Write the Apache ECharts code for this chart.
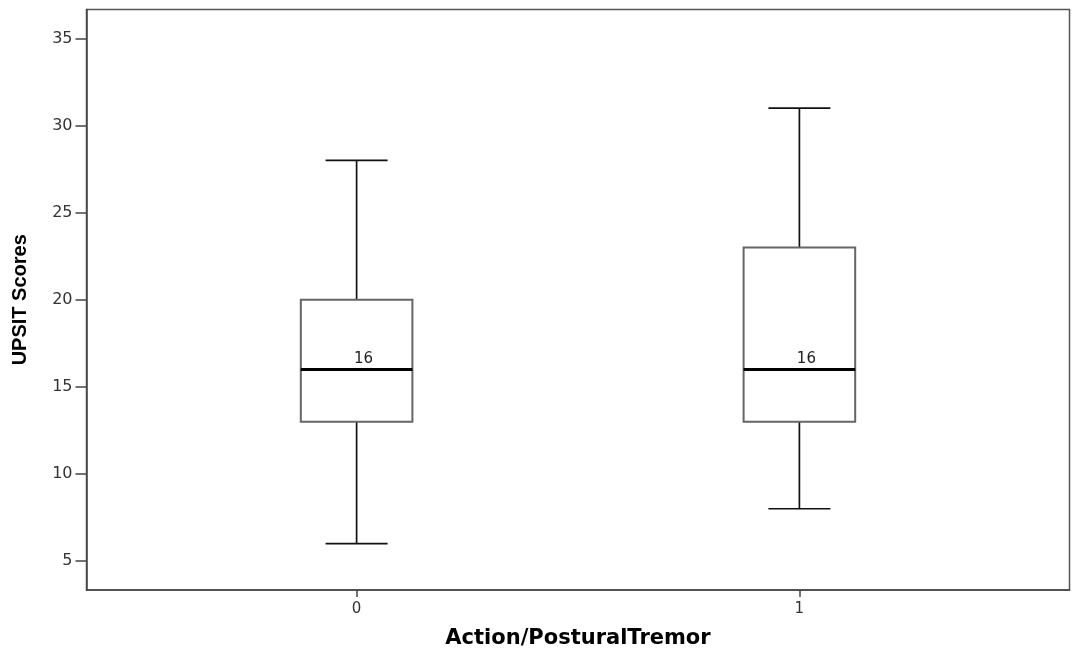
<!DOCTYPE html>
<html>
<head>
<meta charset="utf-8">
<script src="https://cdn.jsdelivr.net/npm/echarts@6/dist/echarts.min.js"></script>
<style>html,body{margin:0;padding:0;background:#fff}#c{width:1073px;height:653px}</style>
</head>
<body>
<div id="c"></div>
<script>
var categories = [0, 1];
var lowWhisker = [6, 8];
var q1 = [13, 13];
var median = [16, 16];
var q3 = [20, 23];
var highWhisker = [28, 31];
var yTicks = [5, 10, 15, 20, 25, 30, 35];
var xTicks = [0, 1];

var data = categories.map(function (c, i) {
  return [c, lowWhisker[i], q1[i], median[i], q3[i], highWhisker[i]];
});

var chart = echarts.init(document.getElementById('c'), null, {renderer: 'canvas'});
var BOXW = 0.252, CAPW = 0.14;
var LABEL_FONT = '"DejaVu Sans", Verdana, sans-serif';

function renderItem(params, api) {
  var x = api.value(0);
  var lo = api.value(1), a = api.value(2), m = api.value(3), b = api.value(4), hi = api.value(5);
  var pl = api.coord([x - BOXW / 2, b]);
  var pr = api.coord([x + BOXW / 2, a]);
  var cx = api.coord([x, m]);
  var capL = api.coord([x - CAPW / 2, hi])[0];
  var capR = api.coord([x + CAPW / 2, hi])[0];
  var yHi = api.coord([x, hi])[1], yLo = api.coord([x, lo])[1];
  var yA = api.coord([x, a])[1], yB = api.coord([x, b])[1];
  var lineStyle = {stroke: '#111', lineWidth: 1.7};
  return {
    type: 'group',
    children: [
      {type: 'line', shape: {x1: cx[0], y1: yHi, x2: cx[0], y2: yB}, style: lineStyle},
      {type: 'line', shape: {x1: cx[0], y1: yA, x2: cx[0], y2: yLo}, style: lineStyle},
      {type: 'line', shape: {x1: capL, y1: yHi, x2: capR, y2: yHi}, style: lineStyle},
      {type: 'line', shape: {x1: capL, y1: yLo, x2: capR, y2: yLo}, style: lineStyle},
      {type: 'rect', shape: {x: pl[0], y: pl[1], width: pr[0] - pl[0], height: pr[1] - pl[1]},
        style: {fill: '#fff', stroke: '#666', lineWidth: 2}},
      {type: 'line', shape: {x1: pl[0], y1: cx[1], x2: pr[0], y2: cx[1]}, style: {stroke: '#000', lineWidth: 3}},
      {type: 'text', x: cx[0] + 7, y: cx[1] - 3,
        style: {text: String(m), fill: '#222', font: '15px ' + LABEL_FONT, align: 'center', verticalAlign: 'bottom'}}
    ]
  };
}

chart.setOption({
  animation: false,
  backgroundColor: '#fff',
  grid: {left: 86.5, right: 3.5, top: 9.5, bottom: 63, outerBoundsMode: 'none', containLabel: false,
    show: true, borderColor: '#555', borderWidth: 1.5, backgroundColor: 'transparent'},
  xAxis: {
    type: 'value', min: -0.61, max: 1.61,
    name: 'Action/PosturalTremor', nameLocation: 'middle', nameGap: 38,
    nameTextStyle: {fontSize: 21, fontWeight: 'bold', color: '#000', fontFamily: LABEL_FONT},
    axisLine: {show: true, onZero: false, lineStyle: {color: '#444', width: 1.5}},
    axisTick: {show: true, inside: false, length: 7, lineStyle: {color: '#444', width: 1.5}, customValues: xTicks},
    axisLabel: {customValues: xTicks, color: '#333', fontSize: 15, margin: 12, fontFamily: LABEL_FONT},
    splitLine: {show: false}
  },
  yAxis: {
    type: 'value', min: 3.333, max: 36.667,
    name: 'UPSIT Scores', nameLocation: 'middle', nameGap: 56, nameRotate: 90,
    nameTextStyle: {fontSize: 20, fontWeight: 'bold', color: '#000', fontFamily: '"Liberation Sans", Arial, sans-serif'},
    axisLine: {show: true, onZero: false, lineStyle: {color: '#444', width: 1.5}},
    axisTick: {show: true, inside: false, length: 11, lineStyle: {color: '#444', width: 1.5}, customValues: yTicks},
    axisLabel: {customValues: yTicks, color: '#333', fontSize: 16, margin: 14, fontFamily: LABEL_FONT},
    splitLine: {show: false}
  },
  series: [{
    type: 'custom',
    renderItem: renderItem,
    encode: {x: 0, y: [1, 2, 3, 4, 5]},
    data: data
  }]
});
</script>
</body>
</html>
